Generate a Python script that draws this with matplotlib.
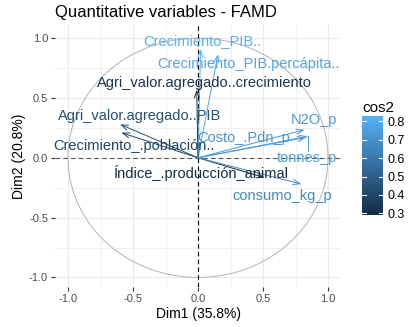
import numpy as np
import matplotlib
matplotlib.use('Agg')
import matplotlib.pyplot as plt
from matplotlib.colors import LinearSegmentedColormap, Normalize
from matplotlib.colorbar import ColorbarBase

plt.rcParams['font.family'] = ['Liberation Sans', 'DejaVu Sans']

names = ["Crecimiento_PIB..", "Crecimiento_PIB.percápita..",
         "Agri_valor.agregado..crecimiento", "Agri_valor.agregado..PIB",
         "Crecimiento_.población..", "Índice_.producción_animal",
         "N2O_p", "Costo_.Pdn_p", "tonnes_p", "consumo_kg_p"]
dim1 = [0.02, 0.154, -0.01, -0.60, -0.59, 0.513, 0.82, 0.83, 0.845, 0.795]
dim2 = [0.91, 0.867, 0.57, 0.28, 0.21, -0.167, 0.235, 0.17, 0.18, -0.22]
cos2 = [0.83, 0.78, 0.33, 0.44, 0.39, 0.29, 0.73, 0.72, 0.75, 0.68]

# label positions (repelled), data coords
lab_x = [0.036, 0.39, 0.048, -0.45, -0.49, 0.025, 0.89, 0.35, 0.84, 0.65]
lab_y = [0.977, 0.785, 0.625, 0.347, 0.10, -0.13, 0.32, 0.167, 0.0, -0.32]

cmap = LinearSegmentedColormap.from_list('gg', ['#132B43', '#56B1F7'])
norm = Normalize(vmin=min(cos2), vmax=max(cos2))

fig = plt.figure(figsize=(4.13, 3.27), dpi=100)
ax = fig.add_axes([55/413, 40/327, 286/413, 262/327])

ax.set_xlim(-1.1, 1.1)
ax.set_ylim(-1.08, 1.11)
ax.set_xticks([-1, -0.5, 0, 0.5, 1])
ax.set_yticks([-1, -0.5, 0, 0.5, 1])
ax.set_xticks([-0.75, -0.25, 0.25, 0.75], minor=True)
ax.set_yticks([-0.75, -0.25, 0.25, 0.75], minor=True)
ax.set_xticklabels(['-1.0', '-0.5', '0.0', '0.5', '1.0'])
ax.set_yticklabels(['-1.0', '-0.5', '0.0', '0.5', '1.0'])
ax.grid(True, which='major', color='#EBEBEB', lw=0.9)
ax.grid(True, which='minor', color='#EBEBEB', lw=0.5)
ax.set_axisbelow(True)
for s in ax.spines.values():
    s.set_visible(False)
ax.tick_params(which='major', length=3, color='#333333', labelsize=8, labelcolor='#4D4D4D', pad=2)
ax.tick_params(which='minor', length=0)

t = np.linspace(0, 2*np.pi, 200)
ax.plot(np.cos(t), np.sin(t), color='#B3B3B3', lw=0.7, zorder=1)
ax.axhline(0, color='#555555', ls=(0, (4, 3)), lw=0.8, zorder=1)
ax.axvline(0, color='black', ls=(0, (4, 3)), lw=0.8, zorder=1)

for i in range(len(names)):
    c = cmap(norm(cos2[i]))
    ax.annotate('', xy=(dim1[i], dim2[i]), xytext=(0, 0),
                arrowprops=dict(arrowstyle='->,head_length=0.5,head_width=0.18',
                                color=c, lw=0.7, shrinkA=0, shrinkB=0), zorder=2)
    ax.text(lab_x[i], lab_y[i], names[i], color=c, fontsize=10.5,
            ha='center', va='center', zorder=3)

# repel segment for tonnes_p
k = names.index('tonnes_p')
ax.plot([dim1[k], dim1[k]], [dim2[k], lab_y[k] + 0.06], color=cmap(norm(cos2[k])), lw=0.7)

ax.set_xlabel('Dim1 (35.8%)', fontsize=10, labelpad=2)
ax.set_ylabel('Dim2 (20.8%)', fontsize=10, labelpad=2)
ax.set_title('Quantitative variables - FAMD', fontsize=12, loc='left', x=0.0, pad=6)

cax = fig.add_axes([362/413, (327-215)/327, 21/413, 99/327])
cb = ColorbarBase(cax, cmap=cmap, norm=norm, ticks=[0.3, 0.4, 0.5, 0.6, 0.7, 0.8])
cb.outline.set_visible(False)
cb.ax.tick_params(length=0, labelsize=9, pad=3)
cb.set_ticklabels(['0.3', '0.4', '0.5', '0.6', '0.7', '0.8'])
for v in [0.3, 0.4, 0.5, 0.6, 0.7, 0.8]:
    cax.plot([0, 0.2], [v, v], color='white', lw=0.8, transform=cax.get_yaxis_transform())
    cax.plot([0.8, 1.0], [v, v], color='white', lw=0.8, transform=cax.get_yaxis_transform())
cax.set_title('cos2', fontsize=11, loc='left', pad=3)

fig.savefig('out.png', dpi=100)
